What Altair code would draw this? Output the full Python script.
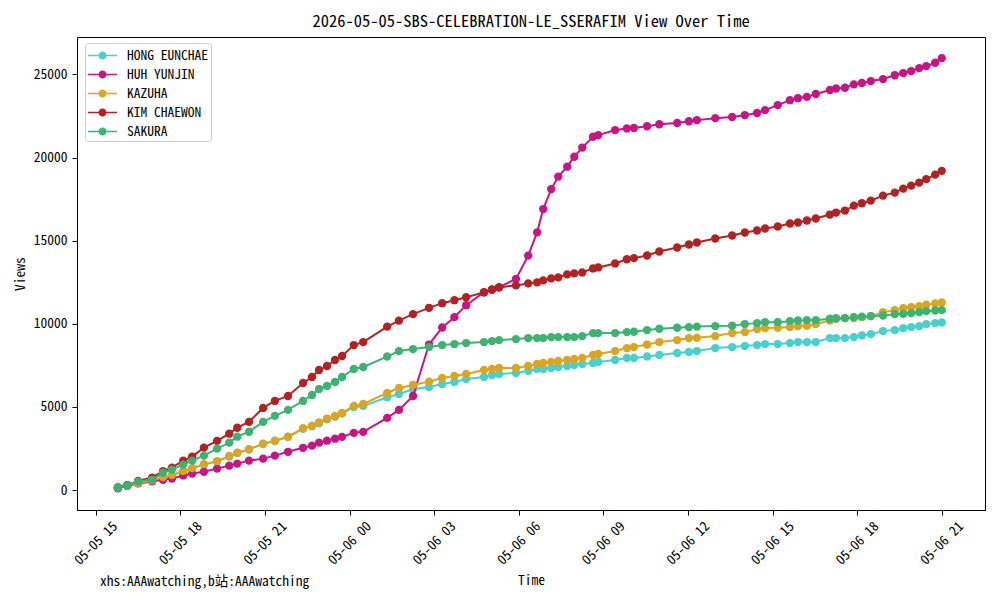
import altair as alt
import pandas as pd

names = ["HONG EUNCHAE", "HUH YUNJIN", "KAZUHA", "KIM CHAEWON", "SAKURA"]
colors = ["#48D1CC", "#C71585", "#DAA520", "#B22222", "#3CB371"]

times = [
    "2026-05-05 15:47", "2026-05-05 16:07", "2026-05-05 16:30", "2026-05-05 17:00",
    "2026-05-05 17:23", "2026-05-05 17:42", "2026-05-05 18:06", "2026-05-05 18:25",
    "2026-05-05 18:50", "2026-05-05 19:18", "2026-05-05 19:44", "2026-05-05 20:01",
    "2026-05-05 20:26", "2026-05-05 20:56", "2026-05-05 21:21", "2026-05-05 21:49",
    "2026-05-05 22:21", "2026-05-05 22:40", "2026-05-05 22:55", "2026-05-05 23:12",
    "2026-05-05 23:29", "2026-05-05 23:44", "2026-05-06 00:09", "2026-05-06 00:29",
    "2026-05-06 01:20", "2026-05-06 01:45", "2026-05-06 02:15", "2026-05-06 02:49",
    "2026-05-06 03:17", "2026-05-06 03:43", "2026-05-06 04:08", "2026-05-06 04:46",
    "2026-05-06 05:03", "2026-05-06 05:18", "2026-05-06 05:54", "2026-05-06 06:20",
    "2026-05-06 06:39", "2026-05-06 06:52", "2026-05-06 07:09", "2026-05-06 07:24",
    "2026-05-06 07:43", "2026-05-06 07:58", "2026-05-06 08:15", "2026-05-06 08:38",
    "2026-05-06 08:49", "2026-05-06 09:25", "2026-05-06 09:50", "2026-05-06 10:05",
    "2026-05-06 10:33", "2026-05-06 10:59", "2026-05-06 11:37", "2026-05-06 12:02",
    "2026-05-06 12:19", "2026-05-06 12:58", "2026-05-06 13:34", "2026-05-06 14:01",
    "2026-05-06 14:27", "2026-05-06 14:44", "2026-05-06 15:11", "2026-05-06 15:37",
    "2026-05-06 15:54", "2026-05-06 16:13", "2026-05-06 16:32", "2026-05-06 17:02",
    "2026-05-06 17:15", "2026-05-06 17:34", "2026-05-06 17:53", "2026-05-06 18:10",
    "2026-05-06 18:29", "2026-05-06 18:55", "2026-05-06 19:20", "2026-05-06 19:38",
    "2026-05-06 19:55", "2026-05-06 20:12", "2026-05-06 20:27", "2026-05-06 20:46",
    "2026-05-06 21:00",
]

hong_eunchae = [
    130, 260, 400, 560, 760, 880, 1120, 1300, 1530, 1720, 2020, 2230, 2440, 2770, 2950, 3190,
    3680, 3830, 4020, 4250, 4410, 4600, 5000, 5060,
    5580, 5780, 6060, 6200, 6380, 6500, 6680, 6800, 6920, 6980, 7040, 7160, 7280, 7280, 7340,
    7400, 7460, 7520, 7580, 7640, 7700,
    7820, 7940, 7940, 8030, 8120, 8240, 8300, 8360, 8540, 8600, 8660, 8720, 8780, 8780, 8840,
    8900, 8900, 8900, 9140, 9140, 9140, 9200, 9300, 9380, 9560, 9620, 9740, 9800, 9860, 9980,
    10040, 10080,
]
huh_yunjin = [
    100, 250, 400, 520, 620, 690, 880, 990, 1100, 1290, 1470, 1590, 1770, 1890, 2070, 2300,
    2540, 2670, 2850, 2970, 3090, 3200, 3440, 3500,
    4340, 4820, 5660, 8750, 9780, 10400, 11120, 11900, 12050, 12200, 12700,
    14100, 15500, 16900, 18100, 18850, 19450, 20050, 20600, 21250,
    21350, 21650, 21750, 21780, 21880, 22000, 22080, 22180, 22250, 22370, 22440, 22550, 22680,
    22850, 23150, 23450, 23570, 23650, 23820, 24060, 24150, 24200, 24400, 24480, 24600, 24720,
    24950, 25080, 25200, 25380, 25500, 25700, 25980,
]
kazuha = [
    150, 280, 420, 580, 780, 900, 1150, 1320, 1560, 1740, 2050, 2250, 2460, 2790, 2970, 3210,
    3720, 3870, 4070, 4300, 4460, 4640, 5060, 5180,
    5840, 6140, 6320, 6520, 6740, 6860, 6980, 7220, 7280, 7340, 7340, 7460, 7580, 7640, 7700,
    7760, 7820, 7880, 7940, 8120, 8180,
    8360, 8540, 8600, 8750, 8900, 9020, 9140, 9160, 9260, 9440, 9500, 9680, 9740, 9760, 9800,
    9860, 9880, 9980, 10200, 10280, 10340, 10340, 10400, 10460, 10700, 10820, 10940, 11000,
    11060, 11150, 11220, 11280,
]
kim_chaewon = [
    150, 300, 550, 750, 1130, 1350, 1770, 2010, 2550, 2960, 3390, 3750, 4100, 4940, 5360, 5660,
    6440, 6800, 7220, 7460, 7820, 8060, 8720, 8900,
    9830, 10190, 10580, 10960, 11240, 11420, 11600, 11890, 12070, 12190, 12310, 12430, 12490,
    12610, 12730, 12790, 12970, 13030, 13090, 13330, 13390,
    13630, 13880, 13950, 14110, 14350, 14590, 14770, 14890, 15130, 15310, 15490, 15610, 15730,
    15850, 16030, 16090, 16210, 16330, 16570, 16690, 16810, 17110, 17250, 17410, 17710, 17890,
    18130, 18310, 18490, 18700, 18970, 19200,
]
sakura = [
    150, 270, 510, 630, 1050, 1230, 1530, 1770, 2070, 2490, 2850, 3210, 3510, 4100, 4460, 4820,
    5360, 5720, 6080, 6260, 6500, 6800, 7280, 7400,
    8030, 8360, 8480, 8600, 8720, 8780, 8840, 8900, 8960, 9020, 9080, 9140, 9140, 9140, 9200,
    9200, 9200, 9200, 9260, 9440, 9440,
    9440, 9500, 9520, 9620, 9700, 9760, 9800, 9830, 9860, 9880, 9980, 10040, 10100, 10100,
    10160, 10200, 10220, 10220, 10300, 10340, 10340, 10400, 10430, 10460, 10500, 10580, 10600,
    10640, 10700, 10760, 10800, 10820,
]

y_ticks = [0, 5000, 10000, 15000, 20000, 25000]
x_tick_hours = [(5, 15), (5, 18), (5, 21), (6, 0), (6, 3), (6, 6), (6, 9), (6, 12),
                (6, 15), (6, 18), (6, 21)]

title_text = "2026-05-05-SBS-CELEBRATION-LE_SSERAFIM View Over Time"
watermark = "xhs:AAAwatching,b站:AAAwatching"

series = [hong_eunchae, huh_yunjin, kazuha, kim_chaewon, sakura]
rows = []
for name, vals in zip(names, series):
    for t, v in zip(times, vals):
        rows.append({"time": t, "views": v, "member": name})
df = pd.DataFrame(rows)

FONT = "Noto Sans Mono CJK SC, Noto Sans CJK SC, DejaVu Sans Mono"

x_values = [alt.DateTime(year=2026, month=5, date=d, hours=h) for d, h in x_tick_hours]
x_scale = alt.Scale(domain=[alt.DateTime(year=2026, month=5, date=5, hours=14, minutes=20),
                            alt.DateTime(year=2026, month=5, date=6, hours=22, minutes=32)],
                    nice=False)
y_scale = alt.Scale(domain=[-1200, 27250], nice=False, zero=False)

legend_path = ("M-1.53,-0.08 L1.53,-0.08 L1.53,0.08 L-1.53,0.08 Z "
               "M0.42,0 A0.42,0.42 0 1,1 -0.42,0 A0.42,0.42 0 1,1 0.42,0 Z")

color = alt.Color(
    "member:N",
    scale=alt.Scale(domain=names, range=colors),
    legend=alt.Legend(
        title=None, orient="none", legendX=8, legendY=6,
        symbolType=legend_path, symbolSize=361, symbolStrokeWidth=0,
        symbolOffset=5, labelOffset=15, rowPadding=3, padding=3,
        labelFont=FONT, labelFontSize=13.5, labelColor="black", labelLimit=200,
        fillColor="white", strokeColor="#cccccc", cornerRadius=3,
    ),
)

x_enc = alt.X(
    "time:T", scale=x_scale,
    axis=alt.Axis(values=x_values, format="%m-%d %H", labelAngle=315,
                  labelAlign="center", labelBaseline="middle", labelPadding=28,
                  grid=False, title="Time", titleY=70, titleBaseline="middle"),
)
y_enc = alt.Y(
    "views:Q", scale=y_scale,
    axis=alt.Axis(values=y_ticks, format="d", grid=False, title="Views",
                  titleX=-57, titleBaseline="middle"),
)

base = alt.Chart(df)
layers = []
for name in names:
    sub = base.transform_filter(alt.datum.member == name)
    layers.append(sub.mark_line(strokeWidth=2).encode(x=x_enc, y=y_enc, color=color))
    layers.append(sub.mark_circle(size=70, opacity=1).encode(x=x_enc, y=y_enc, color=color))

wm = alt.Chart(pd.DataFrame({"t": [watermark]})).mark_text(
    align="left", baseline="middle", font=FONT, fontSize=13.5, color="black"
).encode(x=alt.value(23), y=alt.value(545), text="t:N")

chart = alt.layer(*layers, wm).properties(
    width=908, height=473,
    title=alt.TitleParams(title_text, font=FONT, fontSize=16.5, fontWeight="normal",
                          anchor="middle", offset=7, color="black"),
    autosize=alt.AutoSizeParams(type="none"),
    padding={"left": 69, "top": 29, "right": 7, "bottom": 82},
    background="white",
).configure_view(
    stroke="black", strokeWidth=1
).configure_axis(
    labelFont=FONT, labelFontSize=13.5, labelColor="black",
    titleFont=FONT, titleFontSize=13.5, titleColor="black", titleFontWeight="normal",
    domainColor="black", tickColor="black", tickSize=5, labelPadding=5,
    domainWidth=1, tickWidth=1,
)

chart.save("out.html", embed_options={"renderer": "svg", "actions": False})
